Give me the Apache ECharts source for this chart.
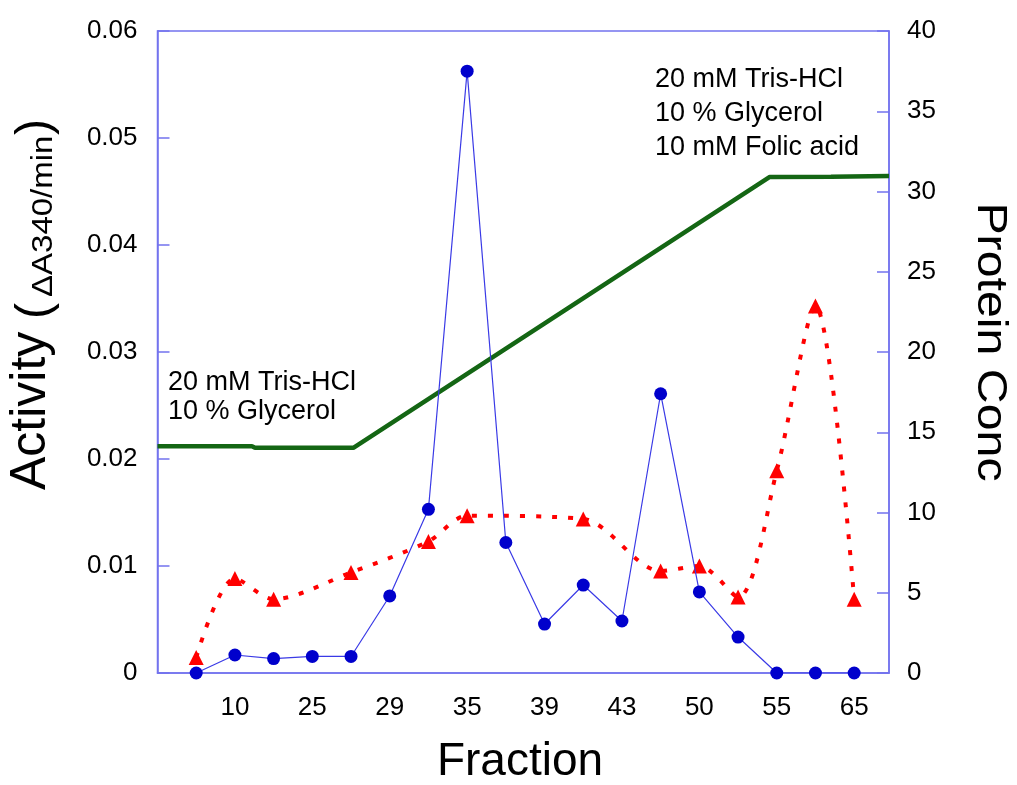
<!DOCTYPE html>
<html>
<head>
<meta charset="utf-8">
<script src="https://cdn.jsdelivr.net/npm/echarts@6/dist/echarts.min.js"></script>
<style>html,body{margin:0;padding:0;background:#fff;}#c{width:1017px;height:785px;}</style>
</head>
<body>
<div id="c"></div>
<script>
// Fraction tick labels (at axis positions 1..9)
var fractionLabels = ['10', '25', '29', '35', '39', '43', '50', '55', '65'];
// Sample positions along the fraction axis
var proteinX = [0.5, 1, 1.5, 2, 2.5, 3, 3.5, 4, 4.5, 5, 5.5, 6, 6.5, 7, 7.5, 8, 8.5, 9];
var proteinConc = [0, 1.12, 0.9, 1.03, 1.03, 4.8, 10.2, 37.5, 8.13, 3.05, 5.48, 3.24, 17.4, 5.05, 2.24, 0, 0, 0];
var activityX = [0.5, 1, 1.5, 2.5, 3.5, 4, 5.5, 6.5, 7, 7.5, 8, 8.5, 9];
var activity = [0.00145, 0.00883, 0.0069, 0.0094, 0.0123, 0.0147, 0.0144, 0.00953, 0.0100, 0.0071, 0.0189, 0.0343, 0.0069];
var gradientX = [0, 1.22, 1.26, 2.53, 7.91, 8.7, 9.45];
var gradient = [0.0212, 0.0212, 0.02105, 0.02105, 0.04636, 0.04638, 0.04645];

var FONT = 'Liberation Sans';
var AXIS_COLOR = '#7373ee';

function pairs(xs, ys) { return xs.map(function (x, i) { return [x, ys[i]]; }); }

var chart = echarts.init(document.getElementById('c'));
chart.setOption({
  animation: false,
  backgroundColor: '#ffffff',
  grid: { left: 157.5, right: 128, top: 31, bottom: 112, show: true, borderColor: AXIS_COLOR, borderWidth: 1.5 },
  xAxis: {
    type: 'value', min: 0, max: 9.45, interval: 1,
    axisLine: { show: true, lineStyle: { color: AXIS_COLOR, width: 1.5 } },
    axisTick: { show: false },
    splitLine: { show: false },
    axisLabel: {
      color: '#000', fontFamily: FONT, fontSize: 26, margin: 22, showMaxLabel: false,
      formatter: function (v) {
        if (Math.abs(v - Math.round(v)) > 1e-6) return '';
        var i = Math.round(v);
        return (i >= 1 && i <= fractionLabels.length) ? fractionLabels[i - 1] : '';
      }
    }
  },
  yAxis: [
    {
      type: 'value', min: 0, max: 0.06, interval: 0.01, position: 'left',
      axisLine: { show: true, lineStyle: { color: AXIS_COLOR, width: 1.5 } },
      axisTick: { show: true, inside: true, length: 12, lineStyle: { color: AXIS_COLOR, width: 1.5 } },
      splitLine: { show: false },
      axisLabel: { color: '#000', fontFamily: FONT, fontSize: 26, margin: 20,
        formatter: function (v) { return v === 0 ? '0' : v.toFixed(2); } }
    },
    {
      type: 'value', min: 0, max: 40, interval: 5, position: 'right',
      axisLine: { show: true, lineStyle: { color: AXIS_COLOR, width: 1.5 } },
      axisTick: { show: true, inside: true, length: 12, lineStyle: { color: AXIS_COLOR, width: 1.5 } },
      splitLine: { show: false },
      axisLabel: { color: '#000', fontFamily: FONT, fontSize: 26, margin: 18 }
    }
  ],
  series: [
    {
      name: 'Gradient', type: 'line', yAxisIndex: 0, data: pairs(gradientX, gradient),
      showSymbol: false, symbol: 'none', lineStyle: { color: '#146614', width: 4.5 }, z: 1
    },
    {
      name: 'Activity', type: 'line', yAxisIndex: 0, data: pairs(activityX, activity),
      smooth: 0.3, symbol: 'triangle', symbolSize: 15,
      itemStyle: { color: '#ff0000' },
      lineStyle: { color: '#ff0000', width: 4, type: [5, 11] }, z: 3
    },
    {
      name: 'Protein Conc', type: 'line', yAxisIndex: 1, data: pairs(proteinX, proteinConc),
      symbol: 'circle', symbolSize: 13,
      itemStyle: { color: '#0000cc' },
      lineStyle: { color: '#3a3ae6', width: 1.2 }, z: 4
    }
  ],
  graphic: [
    {
      type: 'text', left: 168, top: 368,
      style: { text: '20 mM Tris-HCl\n10 % Glycerol', font: '27px "Liberation Sans"', fill: '#000', lineHeight: 29 }
    },
    {
      type: 'text', left: 655, top: 63,
      style: { text: '20 mM Tris-HCl\n10 % Glycerol\n10 mM Folic acid', font: '27px "Liberation Sans"', fill: '#000', lineHeight: 34 }
    },
    {
      type: 'text', x: 520, y: 762,
      style: { text: 'Fraction', font: '46px "Liberation Sans"', fill: '#000', align: 'center', verticalAlign: 'middle' }
    },
    {
      type: 'text', x: 31.5, y: 490, rotation: Math.PI / 2,
      style: { text: 'Activity', font: '50px "Liberation Sans"', fill: '#000', align: 'left', verticalAlign: 'middle' }
    },
    {
      type: 'text', x: 36, y: 319, rotation: Math.PI / 2,
      style: { text: '(', font: '48px "Liberation Sans"', fill: '#000', align: 'left', verticalAlign: 'middle' }
    },
    {
      type: 'text', x: 44, y: 297, rotation: Math.PI / 2, scaleX: 1.1,
      style: { text: 'ΔA340/min', font: '30px "Liberation Sans"', fill: '#000', align: 'left', verticalAlign: 'middle' }
    },
    {
      type: 'text', x: 36, y: 135, rotation: Math.PI / 2,
      style: { text: ')', font: '48px "Liberation Sans"', fill: '#000', align: 'left', verticalAlign: 'middle' }
    },
    {
      type: 'text', x: 990, y: 342, rotation: -Math.PI / 2, scaleX: 1.15,
      style: { text: 'Protein Conc', font: '42px "Liberation Sans"', fill: '#000', align: 'center', verticalAlign: 'middle' }
    }
  ]
});
</script>
</body>
</html>
